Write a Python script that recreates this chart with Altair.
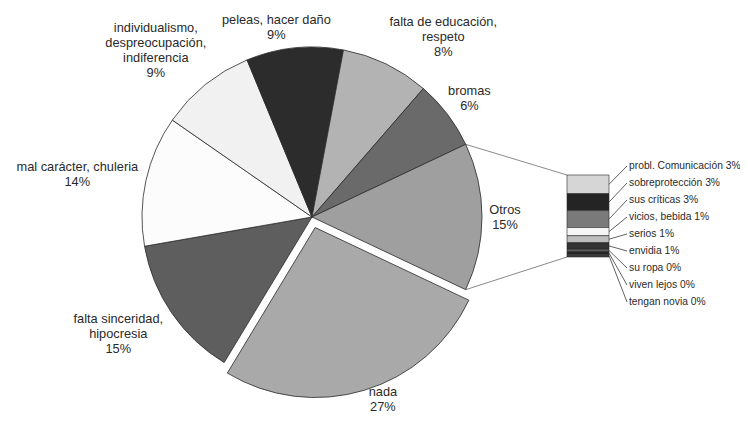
import math
import numpy as np
import pandas as pd
import altair as alt

# ---------------- data ----------------
main_names = ["nada", "falta sinceridad,\nhipocresia", "mal carácter, chuleria",
              "individualismo,\ndespreocupación,\nindiferencia", "peleas, hacer daño",
              "falta de educación,\nrespeto", "bromas"]
main_values = [26.6, 13.6, 12.4, 9.1, 9.2, 8.4, 6.6]
main_pct_labels = [27, 15, 14, 9, 9, 8, 6]
otros_name = "Otros"
otros_pct_label = 15
main_colors = ["#a9a9a9", "#5e5e5e", "#fcfcfc", "#f1f1f1", "#2c2c2c", "#b3b3b3", "#6a6a6a"]
otros_color = "#9f9f9f"

other_names = ["probl. Comunicación", "sobreprotección", "sus críticas", "vicios, bebida",
               "serios", "envidia", "su ropa", "viven lejos", "tengan novia"]
other_values = [3.2, 2.9, 2.9, 1.4, 1.2, 1.1, 0.45, 0.45, 0.45]
other_colors = ["#d6d6d6", "#242424", "#7a7a7a", "#f6f6f6", "#bdbdbd", "#333333",
                "#5a5a5a", "#262626", "#3a3a3a"]

# ---------------- layout ----------------
W, H = 732, 405
CX, CY, R = 304, 209, 170
EXPLODE = 11
LABEL_DIST = 175
KX, KY = 3.3, 1.4
CHARW = 5.8
MIN_W = 36
LH = 15
BAR_X0, BAR_X1 = 559, 601
BAR_TOP, BAR_BOT = 167, 249
BLABEL_X = 621
BLABEL_START = -9
BLABEL_STEP = 17

# ---------------- pie table ----------------
names = main_names + [otros_name]
vals = main_values + [sum(other_values)]
pcts = main_pct_labels + [otros_pct_label]
colors = main_colors + [otros_color]
total = sum(vals)
pie = pd.DataFrame({"name": names, "v": vals, "pct": pcts})
pie["t1"] = pie["v"].cumsum()
pie["t0"] = pie["t1"] - pie["v"]
start = math.pi / 2 + math.pi * vals[-1] / total
pie["mid"] = start + 2 * math.pi * (pie["t0"] + pie["t1"]) / 2 / total
dx = np.sin(pie["mid"])
dy = -np.cos(pie["mid"])
expl = (pie["name"] == "nada").astype(float) * EXPLODE
pie["cx"] = CX + expl * dx
pie["cy"] = CY + expl * dy
pie["label"] = pie["name"] + "\n" + pie["pct"].astype(str) + "%"
nlines = pie["label"].apply(lambda s: len(s.split("\n")))
wid = pie["name"].apply(lambda s: max(MIN_W, max(len(t) for t in s.split("\n")) * CHARW))
hgt = nlines * LH
pie["lx"] = pie["cx"] + LABEL_DIST * dx + np.clip(KX * dx, -1, 1) * wid / 2
block_cy = pie["cy"] + LABEL_DIST * dy + np.clip(KY * dy, -1, 1) * hgt / 2
block_cy = np.minimum(block_cy, H - hgt / 2 + 1)
# first line's middle (vega places the first line at y)
pie["ly"] = block_cy - (nlines - 1) * LH / 2

# connector lines from Otros slice edge to bar corners
orow = pie.iloc[-1]
a0 = start + 2 * math.pi * orow["t0"] / total
a1 = start + 2 * math.pi * orow["t1"] / total
conn = pd.DataFrame({
    "px": [CX + R * math.sin(a0), CX + R * math.sin(a1)],
    "py": [CY - R * math.cos(a0), CY - R * math.cos(a1)],
    "bx": [BAR_X0, BAR_X0],
    "by": [BAR_TOP, BAR_BOT],
})

# ---------------- bar table ----------------
tot_o = sum(other_values)
bar = pd.DataFrame({"name": other_names, "v": other_values})
bar["b1"] = bar["v"].cumsum()
bar["b0"] = bar["b1"] - bar["v"]
bar["m"] = (bar["b0"] + bar["b1"]) / 2
unit = tot_o / (BAR_BOT - BAR_TOP)
bar["lab"] = [(BLABEL_START + BLABEL_STEP * i) * unit for i in range(len(bar))]
bar["blabel"] = bar["name"] + " " + bar["v"].round().astype(int).astype(str) + "%"

FONT = "Liberation Sans"
ys = alt.Scale(domain=[0, tot_o], range=[BAR_TOP, BAR_BOT], nice=False, zero=False)

arcs = alt.Chart(pie).mark_arc(outerRadius=R, stroke="#2a2a2a", strokeWidth=0.8).encode(
    theta=alt.Theta("t0:Q", scale=alt.Scale(domain=[0, total], range=[start, start + 2 * math.pi])),
    theta2="t1:Q",
    x=alt.X("cx:Q", scale=None),
    y=alt.Y("cy:Q", scale=None),
    fill=alt.Fill("name:N", scale=alt.Scale(domain=names, range=colors), legend=None),
)

plabels = alt.Chart(pie).mark_text(
    lineBreak="\n", font=FONT, fontSize=12.8, lineHeight=LH, align="center",
    baseline="middle", color="#2a2a2a"
).encode(
    x=alt.X("lx:Q", scale=None),
    y=alt.Y("ly:Q", scale=None),
    text="label:N",
)

connectors = alt.Chart(conn).mark_rule(color="#8a8a8a", strokeWidth=1).encode(
    x=alt.X("px:Q", scale=None),
    y=alt.Y("py:Q", scale=None),
    x2="bx:Q",
    y2="by:Q",
)

bars = alt.Chart(bar).mark_rect(stroke="#2a2a2a", strokeWidth=0.6).encode(
    x=alt.value(BAR_X0),
    x2=alt.value(BAR_X1),
    y=alt.Y("b0:Q", scale=ys, axis=None),
    y2="b1:Q",
    fill=alt.Fill("name:N", scale=alt.Scale(domain=other_names, range=other_colors), legend=None),
)

leaders = alt.Chart(bar).mark_rule(color="#3a3a3a", strokeWidth=0.8).encode(
    x=alt.value(BAR_X1),
    x2=alt.value(BLABEL_X - 2),
    y=alt.Y("m:Q", scale=ys, axis=None),
    y2="lab:Q",
)

blabels = alt.Chart(bar).mark_text(
    font=FONT, fontSize=10.3, align="left", baseline="middle", color="#2a2a2a"
).encode(
    x=alt.value(BLABEL_X),
    y=alt.Y("lab:Q", scale=ys, axis=None),
    text="blabel:N",
)

chart = alt.layer(connectors, arcs, plabels, bars, leaders, blabels).resolve_scale(
    x="independent", y="independent", fill="independent"
).properties(
    width=W, height=H, padding=0, autosize="none", background="white"
).configure_view(stroke=None)

chart.save("out.html", embed_options={"renderer": "svg", "actions": False})
